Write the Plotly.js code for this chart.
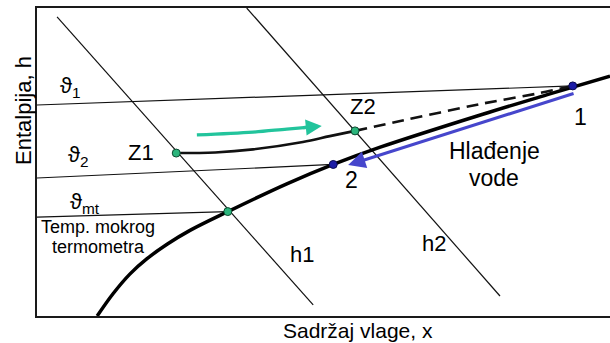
<!DOCTYPE html>
<html><head><meta charset="utf-8">
<script src="https://cdn.plot.ly/plotly-3.0.1.min.js"></script>
<style>html,body{margin:0;padding:0;background:#fff}#chart{width:610px;height:343px}</style>
</head><body><div id="chart"></div>
<script>
// Saturation curve (x = moisture content, h = enthalpy), schematic units 0..100
var satX = [10.5, 13.3, 16.2, 19.2, 22.7, 26.7, 33.3, 43.6, 51.7, 59.9, 77.8, 89.5, 100];
var satH = [0, 7.3, 13.6, 18.6, 23.3, 27.8, 33.9, 42.9, 49.2, 54.8, 65.5, 72.1, 77.9];
// Air process Z1 -> Z2
var procX = [24.3, 31.1, 37.7, 46.4, 51.1, 55.5];
var procH = [52.9, 53.1, 54.1, 56.5, 58.4, 60.1];
// Dashed continuation Z2 -> 1
var dashX = [55.5, 63.4, 77.3, 87.8, 93.5];
var dashH = [60.1, 63.3, 68.8, 72.4, 74.7];
// Isotherms
var iso1X = [0, 93.5], iso1H = [68.5, 74.7];
var iso2X = [0, 51.7], iso2H = [44.8, 49.2];
var isoMtX = [0, 33.3], isoMtH = [32.1, 33.9];
// Enthalpy lines
var h1X = [3.5, 48.2], h1H = [97.1, 3.6];
var h2X = [36.6, 80.8], h2H = [100, 6.5];
// Points
var greenPtsX = [24.3, 55.5, 33.3], greenPtsH = [52.9, 60.1, 33.9];
var bluePtsX = [93.5, 51.7], bluePtsH = [74.7, 49.2];
// Arrows
var greenArrX = [27.9, 37.7, 43.6, 47.6], greenArrH = [58.8, 59.7, 60.7, 61.3];
var greenTip = [49.7, 61.7], greenTail = [46.2, 61.1];
var blueTail = [93.9, 72.4], blueTip = [54.3, 49.0];
// Labels
var labels = [
  {t:'Z1', x:18.2, y:53.2, s:22},
  {t:'Z2', x:56.9, y:67.9, s:22},
  {t:'1', x:94.8, y:64.6, s:23},
  {t:'2', x:54.8, y:44.2, s:23},
  {t:'Hlađenje', x:79.9, y:53.6, s:23},
  {t:'vode', x:79.7, y:44.8, s:23},
  {t:'h1', x:46.2, y:20.1, s:22},
  {t:'h2', x:69.3, y:23.7, s:22},
  {t:'ϑ<sub>1</sub>', x:5.8, y:74.4, s:22},
  {t:'ϑ<sub>2</sub>', x:7.2, y:51.9, s:22},
  {t:'ϑ<sub>mt</sub>', x:8.4, y:36.7, s:22},
  {t:'Temp. mokrog', x:10.6, y:28.9, s:18},
  {t:'termometra', x:10.8, y:22.4, s:18}
];

var FONT = 'Liberation Sans, Arial, sans-serif';
var TXT = '#000';
var thin = {color:'#111', width:1.2};
function ln(x, y, line, shape){ return {x:x, y:y, mode:'lines', line:Object.assign({shape:shape||'linear'}, line), hoverinfo:'skip', showlegend:false}; }

var traces = [
  ln(iso1X, iso1H, thin), ln(iso2X, iso2H, thin), ln(isoMtX, isoMtH, thin),
  ln(h1X, h1H, thin), ln(h2X, h2H, thin),
  ln(satX, satH, {color:'#000', width:3.5, smoothing:1}, 'spline'),
  ln(procX, procH, {color:'#111', width:2.6, smoothing:1}, 'spline'),
  ln(dashX, dashH, {color:'#111', width:2.6, dash:'12px,7px', smoothing:0.6}, 'spline'),
  ln(greenArrX, greenArrH, {color:'#22c49c', width:3.2, smoothing:1}, 'spline'),
  {x:greenPtsX, y:greenPtsH, mode:'markers', marker:{size:8, color:'#2bb57c', line:{color:'#0d4a30', width:1}}, hoverinfo:'skip', showlegend:false},
  {x:bluePtsX, y:bluePtsH, mode:'markers', marker:{size:8, color:'#1c1ca6', line:{color:'#0a0a50', width:1}}, hoverinfo:'skip', showlegend:false}
];

var ann = labels.map(function(l){
  return {x:l.x, y:l.y, xref:'x', yref:'y', xanchor:'center', yanchor:'middle', text:l.t, showarrow:false, font:{family:FONT, size:l.s, color:TXT}};
});
ann.push({x:greenTip[0], y:greenTip[1], ax:greenTail[0], ay:greenTail[1], xref:'x', yref:'y', axref:'x', ayref:'y',
  text:'', showarrow:true, arrowhead:2, arrowsize:1, arrowwidth:3.2, arrowcolor:'#22c49c', standoff:0});
ann.push({x:blueTip[0], y:blueTip[1], ax:blueTail[0], ay:blueTail[1], xref:'x', yref:'y', axref:'x', ayref:'y',
  text:'', showarrow:true, arrowhead:2, arrowsize:1.15, arrowwidth:3, arrowcolor:'#4646cc', standoff:0});
ann.push({x:-0.0227, y:0.669, xref:'paper', yref:'paper', xanchor:'center', yanchor:'middle', text:'Entalpija, h', textangle:-90, showarrow:false,
  font:{family:FONT, size:22, color:TXT}});
ann.push({x:0.560, y:-0.0487, xref:'paper', yref:'paper', xanchor:'center', yanchor:'middle', text:'Sadržaj vlage, x', showarrow:false,
  font:{family:FONT, size:21, color:TXT}});

var layout = {
  width:610, height:343,
  margin:{l:37, r:0, t:8, b:27},
  paper_bgcolor:'#fff', plot_bgcolor:'#fff',
  showlegend:false,
  xaxis:{range:[0,100], showgrid:false, zeroline:false, showticklabels:false, ticks:'', showline:true, mirror:true, linecolor:'#1a1a1a', linewidth:2, fixedrange:true},
  yaxis:{range:[0,100], showgrid:false, zeroline:false, showticklabels:false, ticks:'', showline:true, mirror:false, linecolor:'#1a1a1a', linewidth:2, fixedrange:true},
  annotations:ann
};
Plotly.newPlot('chart', traces, layout, {staticPlot:true, displayModeBar:false});
</script></body></html>
